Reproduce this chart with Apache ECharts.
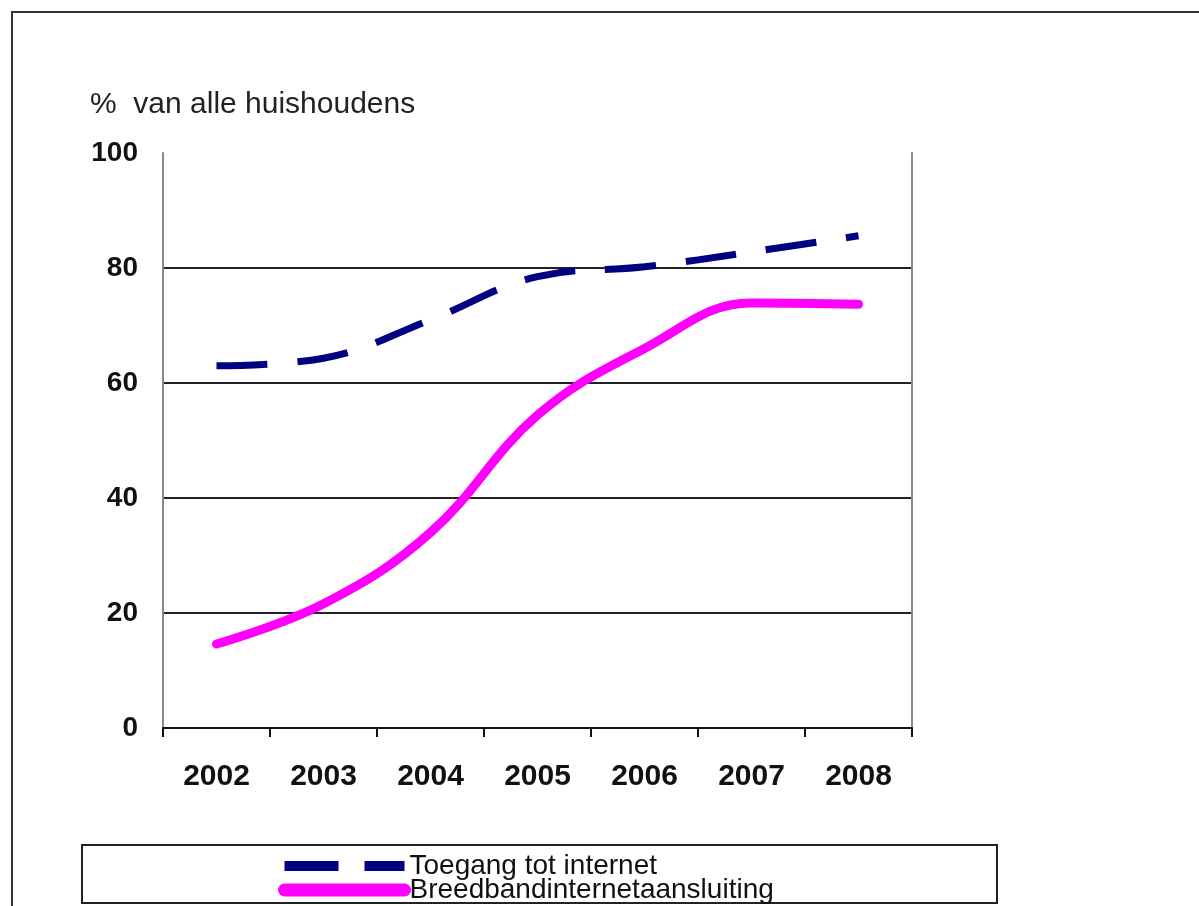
<!DOCTYPE html>
<html>
<head>
<meta charset="utf-8">
<script src="https://cdn.jsdelivr.net/npm/echarts@6/dist/echarts.min.js"></script>
<style>
  html, body { margin: 0; padding: 0; background: #fff; }
  #main { width: 1199px; height: 906px; }
</style>
</head>
<body>
<div id="main"></div>
<script>
// jaren op de x-as
var years = ['2002', '2003', '2004', '2005', '2006', '2007', '2008'];
// % van alle huishoudens
var toegang = [63, 64.3, 71, 78.5, 80.2, 82.8, 85.6];
var breedband = [14.6, 21.6, 34, 54.4, 66, 73.9, 73.7];
var seriesNames = ['Toegang tot internet', 'Breedbandinternetaansluiting'];

var chart = echarts.init(document.getElementById('main'), null, { renderer: 'canvas' });

chart.setOption({
  animation: false,
  backgroundColor: '#fff',
  title: {
    text: '%  van alle huishoudens',
    left: 90,
    top: 90,
    padding: 0,
    textStyle: {
      fontFamily: 'Liberation Sans',
      fontSize: 30,
      fontWeight: 'normal',
      color: '#222'
    }
  },
  // kaders: rand om de figuur en om de legenda
  graphic: [
    {
      type: 'rect',
      z: 0,
      shape: { x: 12, y: 12, width: 1200, height: 910 },
      style: { fill: 'none', stroke: '#333', lineWidth: 2 }
    },
    {
      type: 'rect',
      z: 0,
      shape: { x: 82, y: 845, width: 915, height: 58 },
      style: { fill: 'none', stroke: '#222', lineWidth: 2 }
    }
  ],
  legend: {
    orient: 'vertical',
    left: 278,
    top: 852,
    height: 120,
    padding: 0,
    itemGap: -4,
    itemWidth: 120,
    itemHeight: 14,
    itemStyle: { opacity: 0 },
    textStyle: {
      fontFamily: 'Liberation Sans',
      fontSize: 28,
      lineHeight: 20,
      color: '#111'
    },
    data: [
      { name: seriesNames[0], lineStyle: { width: 10, type: [54, 26], cap: 'butt' } },
      { name: seriesNames[1], lineStyle: { width: 13, cap: 'round' } }
    ]
  },
  grid: {
    left: 163,
    right: 287,
    top: 153,
    bottom: 178
  },
  xAxis: {
    type: 'category',
    data: years,
    boundaryGap: true,
    axisLine: { lineStyle: { color: '#111', width: 2 } },
    axisTick: { show: true, length: 9, lineStyle: { color: '#111', width: 2 } },
    axisLabel: {
      margin: 34,
      fontFamily: 'Liberation Sans',
      fontSize: 30,
      fontWeight: 'bold',
      color: '#111'
    },
    splitLine: { show: false }
  },
  yAxis: [
    {
      type: 'value',
      min: 0,
      max: 100,
      interval: 20,
      axisLine: { show: true, lineStyle: { color: '#888', width: 2 } },
      axisTick: { show: false },
      axisLabel: {
        margin: 25,
        fontFamily: 'Liberation Sans',
        fontSize: 28,
        fontWeight: 'bold',
        color: '#111'
      },
      splitLine: {
        show: true,
        showMinLine: false,
        showMaxLine: false,
        lineStyle: { color: '#222', width: 2 }
      }
    },
    {
      type: 'value',
      position: 'right',
      min: 0,
      max: 100,
      interval: 20,
      axisLine: { show: true, lineStyle: { color: '#888', width: 2 } },
      axisTick: { show: false },
      axisLabel: { show: false },
      splitLine: { show: false }
    }
  ],
  series: [
    {
      name: seriesNames[0],
      type: 'line',
      data: toegang,
      smooth: 0.4,
      symbol: 'none',
      color: '#000080',
      lineStyle: { color: '#000080', width: 7, type: [51, 30], cap: 'butt' },
      z: 3
    },
    {
      name: seriesNames[1],
      type: 'line',
      data: breedband,
      smooth: 0.4,
      symbol: 'none',
      color: '#ff00ff',
      lineStyle: { color: '#ff00ff', width: 9, cap: 'round' },
      z: 3
    }
  ]
});
</script>
</body>
</html>
